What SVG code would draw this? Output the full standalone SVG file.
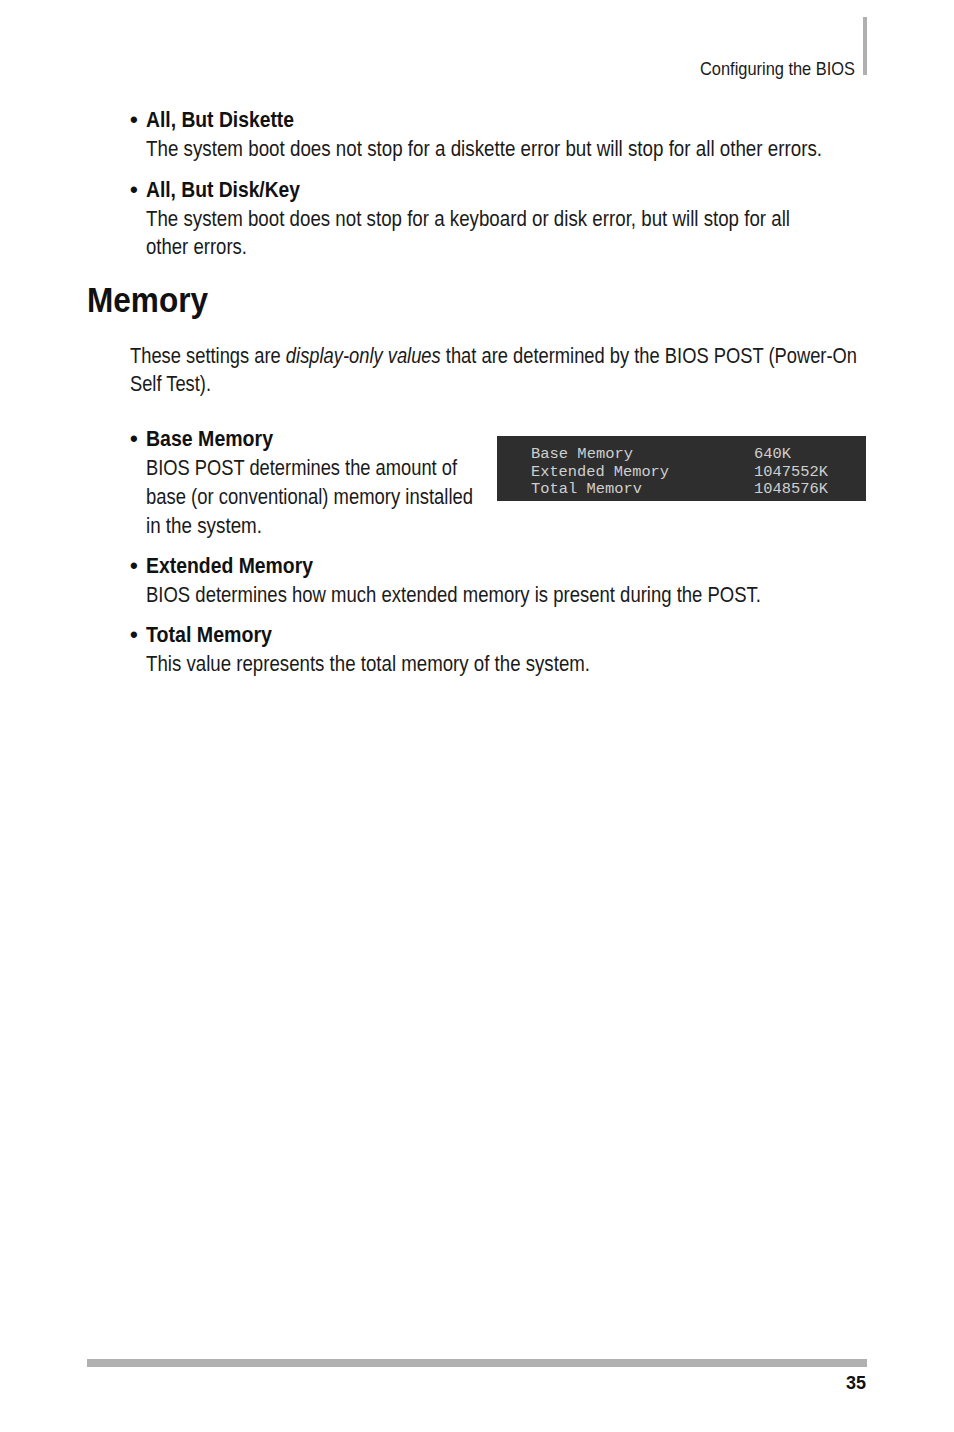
<svg xmlns="http://www.w3.org/2000/svg" width="954" height="1432" viewBox="0 0 954 1432">
<style>
.t{font-family:"Liberation Sans Narrow","Liberation Sans",Arial,sans-serif;font-size:21.5px;fill:#1a1a1a;}
.b{font-family:"Liberation Sans Narrow","Liberation Sans",Arial,sans-serif;font-size:22px;font-weight:bold;fill:#111;}
.i{font-style:italic;}
.m{font-family:"Liberation Mono","Courier New",monospace;font-size:15.4px;fill:#cfcfcf;}
</style>
<rect width="954" height="1432" fill="#ffffff"/>
<g id="header">
<rect x="863" y="17" width="4" height="58" fill="#b0b0b0"/>
<text class="t" x="700" y="75" style="font-size:18.5px" textLength="155" lengthAdjust="spacingAndGlyphs">Configuring the BIOS</text>
</g>
<g id="all-but-diskette">
<text class="b" x="130" y="127">•</text>
<text class="b" x="146" y="127" textLength="148" lengthAdjust="spacingAndGlyphs">All, But Diskette</text>
<text class="t" x="146" y="156" textLength="676" lengthAdjust="spacingAndGlyphs">The system boot does not stop for a diskette error but will stop for all other errors.</text>
</g>
<g id="all-but-disk-key">
<text class="b" x="130" y="197">•</text>
<text class="b" x="146" y="197" textLength="154" lengthAdjust="spacingAndGlyphs">All, But Disk/Key</text>
<text class="t" x="146" y="226" textLength="644" lengthAdjust="spacingAndGlyphs">The system boot does not stop for a keyboard or disk error, but will stop for all</text>
<text class="t" x="146" y="254" textLength="101" lengthAdjust="spacingAndGlyphs">other errors.</text>
</g>
<g id="memory-title">
<text class="b" x="87" y="312" style="font-size:35px" textLength="121" lengthAdjust="spacingAndGlyphs">Memory</text>
</g>
<g id="intro">
<text class="t" x="130" y="363" textLength="727" lengthAdjust="spacingAndGlyphs">These settings are <tspan class="i">display-only values</tspan> that are determined by the BIOS POST (Power-On</text>
<text class="t" x="130" y="391" textLength="81" lengthAdjust="spacingAndGlyphs">Self Test).</text>
</g>
<g id="base-memory">
<text class="b" x="130" y="446">•</text>
<text class="b" x="146" y="446" textLength="127" lengthAdjust="spacingAndGlyphs">Base Memory</text>
<text class="t" x="146" y="475" textLength="311" lengthAdjust="spacingAndGlyphs">BIOS POST determines the amount of</text>
<text class="t" x="146" y="504" textLength="327" lengthAdjust="spacingAndGlyphs">base (or conventional) memory installed</text>
<text class="t" x="146" y="533" textLength="116" lengthAdjust="spacingAndGlyphs">in the system.</text>
</g>
<g id="bios-screen">
<rect x="497" y="436" width="369" height="65" fill="#2e2e2e"/>
<text class="m" x="531" y="458" textLength="102" lengthAdjust="spacingAndGlyphs">Base Memory</text>
<text class="m" x="754" y="458" textLength="37" lengthAdjust="spacingAndGlyphs">640K</text>
<text class="m" x="531" y="476" textLength="138" lengthAdjust="spacingAndGlyphs">Extended Memory</text>
<text class="m" x="754" y="476" textLength="74" lengthAdjust="spacingAndGlyphs">1047552K</text>
<text class="m" x="531" y="493" textLength="111" lengthAdjust="spacingAndGlyphs">Total Memorv</text>
<text class="m" x="754" y="493" textLength="74" lengthAdjust="spacingAndGlyphs">1048576K</text>
</g>
<g id="extended-memory">
<text class="b" x="130" y="573">•</text>
<text class="b" x="146" y="573" textLength="167" lengthAdjust="spacingAndGlyphs">Extended Memory</text>
<text class="t" x="146" y="602" textLength="615" lengthAdjust="spacingAndGlyphs">BIOS determines how much extended memory is present during the POST.</text>
</g>
<g id="total-memory">
<text class="b" x="130" y="642">•</text>
<text class="b" x="146" y="642" textLength="126" lengthAdjust="spacingAndGlyphs">Total Memory</text>
<text class="t" x="146" y="671" textLength="444" lengthAdjust="spacingAndGlyphs">This value represents the total memory of the system.</text>
</g>
<g id="footer">
<rect x="87" y="1359" width="780" height="8" fill="#b0b0b0"/>
<text class="b" x="866" y="1389" style="font-size:18px" text-anchor="end">35</text>
</g>
</svg>
